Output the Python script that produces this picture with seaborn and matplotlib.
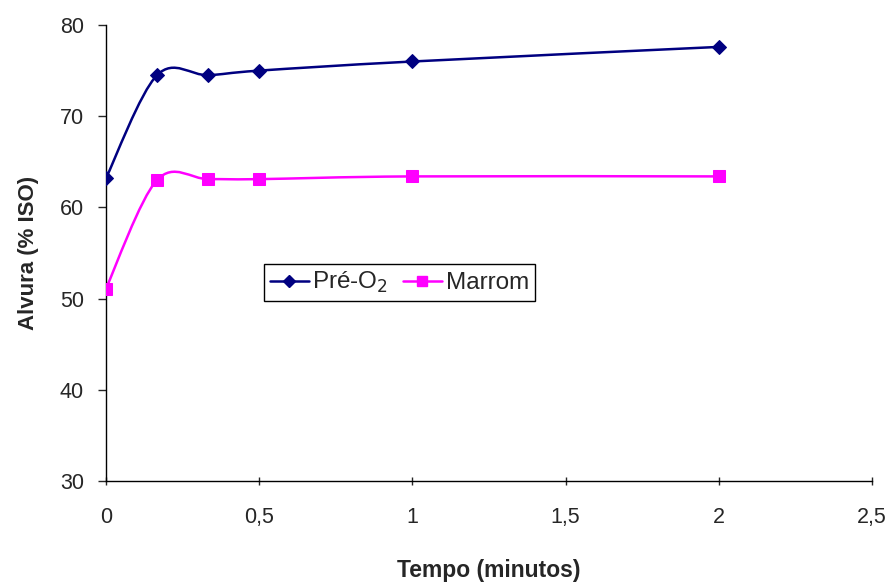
import numpy as np
import pandas as pd
import matplotlib
matplotlib.use("Agg")
import matplotlib.pyplot as plt
import seaborn as sns
from matplotlib.path import Path
from matplotlib.patches import PathPatch
from matplotlib.lines import Line2D
from matplotlib.ticker import FuncFormatter

# data
tempo = [0, 1 / 6, 1 / 3, 0.5, 1, 2]
pre_o2 = [63.2, 74.5, 74.5, 75.0, 76.0, 77.6]
marrom = [51.1, 63.0, 63.1, 63.1, 63.4, 63.4]

series_names = ["Pré-O$_2$", "Marrom"]
colors = ["#000080", "#FF00FF"]
markers = ["D", "s"]
marker_sizes = [7.5, 9]

df = pd.DataFrame({
    "Tempo": tempo * 2,
    "Alvura": pre_o2 + marrom,
    "Serie": [series_names[0]] * len(tempo) + [series_names[1]] * len(tempo),
})


def smooth_path(x, y):
    # Excel-like smoothed line: cubic bezier through the points
    pts = np.column_stack([x, y]).astype(float)
    n = len(pts)
    verts = [pts[0]]
    codes = [Path.MOVETO]
    for i in range(n - 1):
        p0 = pts[i - 1] if i > 0 else pts[i]
        p1 = pts[i]
        p2 = pts[i + 1]
        p3 = pts[i + 2] if i + 2 < n else pts[i + 1]
        c1 = p1 + (p2 - p0) / 6.0
        c2 = p2 - (p3 - p1) / 6.0
        verts += [c1, c2, p2]
        codes += [Path.CURVE4] * 3
    return Path(verts, codes)


sns.set_style("white")
plt.rcParams["font.family"] = ["Liberation Sans", "DejaVu Sans"]

fig = plt.figure(figsize=(8.92, 5.86), dpi=100)
ax = fig.add_axes([0.1188, 0.1792, 0.8588, 0.7781])

for name, col, vals in zip(series_names, colors, [pre_o2, marrom]):
    ax.add_patch(PathPatch(smooth_path(tempo, vals), facecolor="none",
                           edgecolor=col, lw=1.8, zorder=2))

for name, col, mk, ms in zip(series_names, colors, markers, marker_sizes):
    sub = df[df["Serie"] == name]
    sns.lineplot(data=sub, x="Tempo", y="Alvura", ax=ax, color=col,
                 marker=mk, markersize=ms, markeredgecolor=col,
                 linestyle="", legend=False, zorder=3)

ax.set_xlim(0, 2.5)
ax.set_ylim(30, 80)
ax.set_xticks(np.arange(0, 2.51, 0.5))
ax.set_yticks(np.arange(30, 81, 10))
ax.xaxis.set_major_formatter(FuncFormatter(lambda v, p: f"{v:g}".replace(".", ",")))
ax.tick_params(axis="x", direction="inout", length=6, width=1, labelsize=15.5, pad=16,
               bottom=True)
ax.tick_params(axis="y", direction="out", length=6, width=1, labelsize=15.5, pad=10,
               left=True)
for s in ["top", "right"]:
    ax.spines[s].set_visible(False)
for s in ["left", "bottom"]:
    ax.spines[s].set_color("black")
    ax.spines[s].set_linewidth(1)

ax.set_xlabel("Tempo (minutos)", fontsize=16.5, fontweight="bold", labelpad=22)
ax.set_ylabel("Alvura (% ISO)", fontsize=16, fontweight="bold", labelpad=15)

handles = [Line2D([], [], color=c, marker=m, markersize=ms * 0.8, lw=1.8)
           for c, m, ms in zip(colors, markers, marker_sizes)]
leg = ax.legend(handles, series_names, loc="center", bbox_to_anchor=(0.383, 0.435),
                ncol=2, fontsize=17.5, frameon=True, fancybox=False, framealpha=1,
                edgecolor="black", handlelength=1.6, handletextpad=0.15,
                columnspacing=0.6, borderpad=0.25, borderaxespad=0)
leg.get_frame().set_linewidth(1)

fig.savefig("out.png", dpi=100)
